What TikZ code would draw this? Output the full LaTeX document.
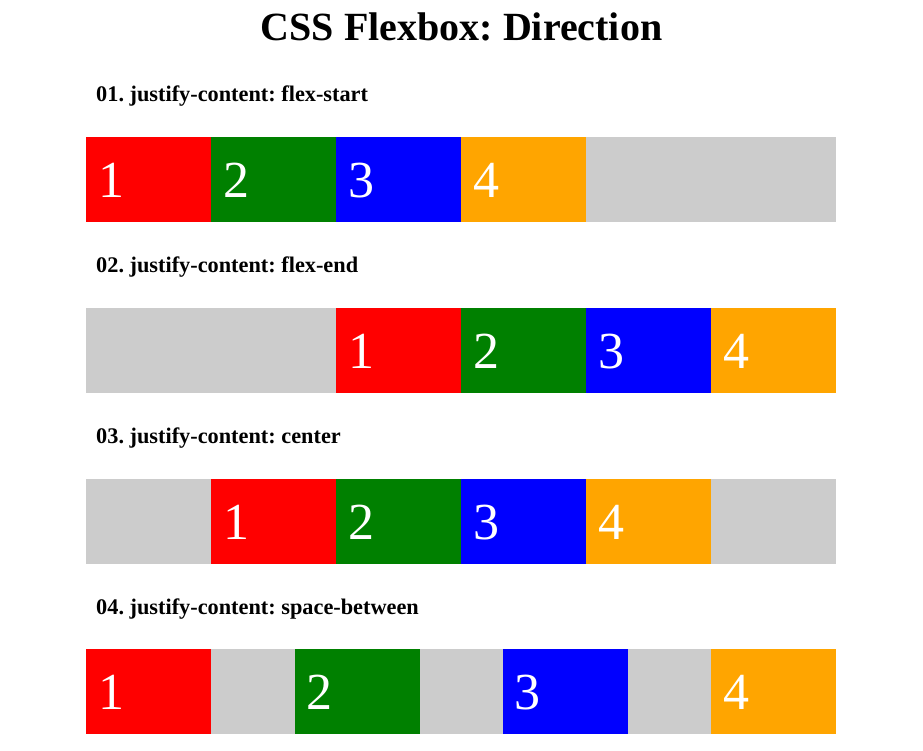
\documentclass[tikz,border=0pt]{standalone}
\usepackage{fontspec}
\setmainfont{Liberation Serif}
\frenchspacing
\definecolor{itemred}{HTML}{FF0000}
\definecolor{itemgreen}{HTML}{008000}
\definecolor{itemblue}{HTML}{0000FF}
\definecolor{itemorange}{HTML}{FFA500}
\definecolor{bargray}{HTML}{CCCCCC}
\begin{document}
\begin{tikzpicture}[
    x=1pt, y=-1pt,
    title/.style={anchor=base, inner sep=0pt, font=\fontsize{40}{40}\selectfont\bfseries},
    heading/.style={anchor=base west, inner sep=0pt, font=\fontsize{22.3}{22.3}\selectfont\bfseries},
    bar/.style={anchor=north west, fill=bargray, inner sep=0pt, minimum width=750pt, minimum height=85pt},
    item/.style={anchor=north west, inner ysep=0pt, inner xsep=12pt, text width=101pt, align=left,
      minimum height=85pt, text height=36pt, text depth=0pt, text=white, font=\fontsize{52}{52}\selectfont}
  ]
    \useasboundingbox (0,0) rectangle (923,751);

    \node[title] (title) at (461.5,41) {CSS Flexbox: Direction};

    % 01. flex-start
    \node[heading] (head1) at (96,102) {01. justify-content: flex-start};
    \node[bar] (bar1) at (86,137) {};
    \node[item, fill=itemred] (start1) at (86,137) {1};
    \node[item, fill=itemgreen] (start2) at (211,137) {2};
    \node[item, fill=itemblue] (start3) at (336,137) {3};
    \node[item, fill=itemorange] (start4) at (461,137) {4};

    % 02. flex-end
    \node[heading] (head2) at (96,272.67) {02. justify-content: flex-end};
    \node[bar] (bar2) at (86,307.67) {};
    \node[item, fill=itemred] (end1) at (336,307.67) {1};
    \node[item, fill=itemgreen] (end2) at (461,307.67) {2};
    \node[item, fill=itemblue] (end3) at (586,307.67) {3};
    \node[item, fill=itemorange] (end4) at (711,307.67) {4};

    % 03. center
    \node[heading] (head3) at (96,443.33) {03. justify-content: center};
    \node[bar] (bar3) at (86,478.33) {};
    \node[item, fill=itemred] (center1) at (211,478.33) {1};
    \node[item, fill=itemgreen] (center2) at (336,478.33) {2};
    \node[item, fill=itemblue] (center3) at (461,478.33) {3};
    \node[item, fill=itemorange] (center4) at (586,478.33) {4};

    % 04. space-between
    \node[heading] (head4) at (96,614) {04. justify-content: space-between};
    \node[bar] (bar4) at (86,649) {};
    \node[item, fill=itemred] (between1) at (86,649) {1};
    \node[item, fill=itemgreen] (between2) at (294.33,649) {2};
    \node[item, fill=itemblue] (between3) at (502.67,649) {3};
    \node[item, fill=itemorange] (between4) at (711,649) {4};
  \end{tikzpicture}
\end{document}
